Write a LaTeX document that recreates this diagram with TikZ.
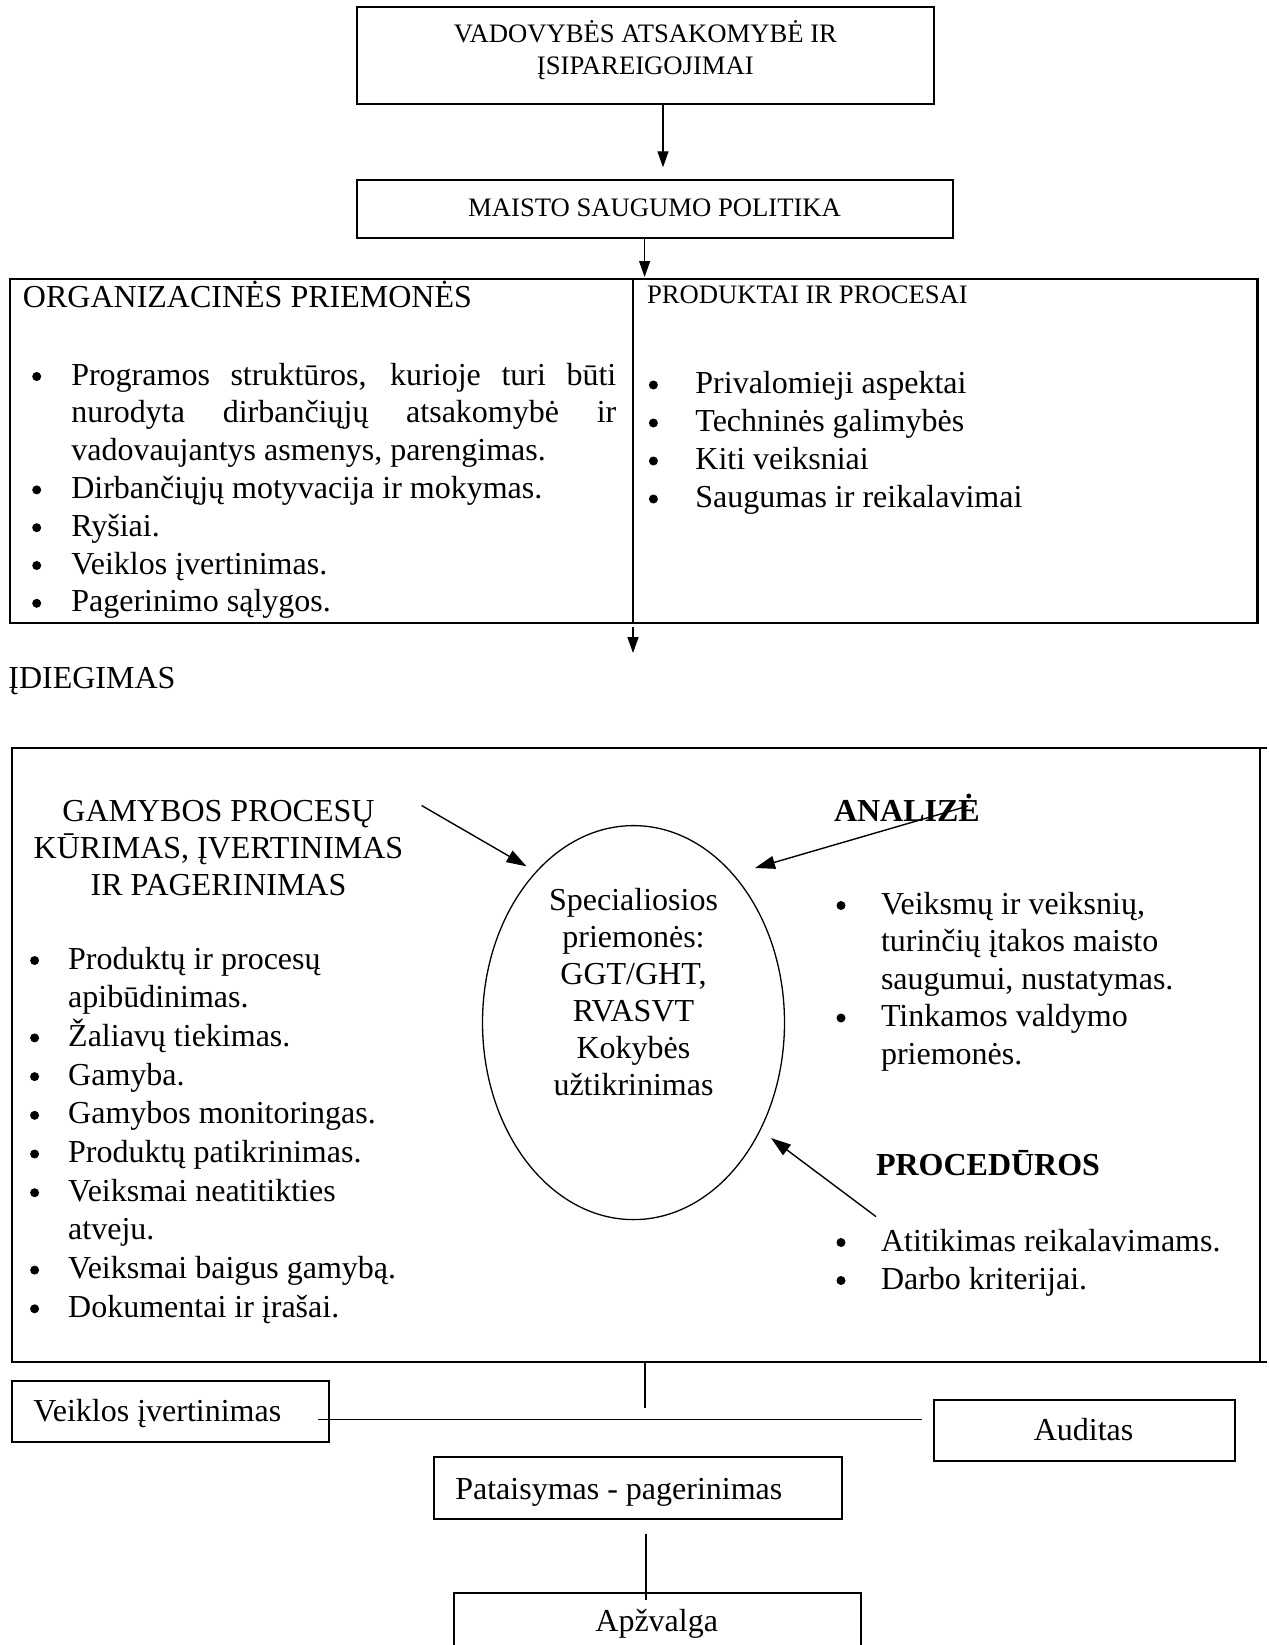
\documentclass[tikz,border=0pt]{standalone}
\usepackage{fontspec}
\setmainfont{Liberation Serif}
\usetikzlibrary{shapes.geometric,arrows.meta,calc}
\newcommand\bigsz{\fontsize{32}{37}\selectfont}
\newcommand\smallsz{\fontsize{26.67}{30.7}\selectfont}
\tikzset{
  frame/.style={draw, line width=1.8pt, inner sep=0pt, outer sep=0pt, anchor=north west},
  txt/.style={inner sep=0pt, outer sep=0pt, anchor=base west, font=\bigsz},
  ctxt/.style={inner sep=0pt, outer sep=0pt, anchor=base, font=\bigsz},
  stxt/.style={txt, font=\smallsz},
  sctxt/.style={ctxt, font=\smallsz},
  btxt/.style={txt, font=\bigsz\bfseries},
  dot/.style={circle, fill, inner sep=0pt, outer sep=0pt, minimum size=9pt},
  link/.style={line width=1.4pt},
  arr/.style={link, -{Triangle[length=16pt,width=11pt]}},
  slant/.style={link, -{Triangle[length=20pt,width=13pt]}},
}
\begin{document}
\begin{tikzpicture}[x=1pt,y=-1pt]
\useasboundingbox (0,0) rectangle (1268,1645);
\clip (0,0) rectangle (1268,1645);

% --- management commitment and policy ---
\node[frame, minimum width=577.4pt, minimum height=96.4pt] (lead) at (356.6,7.3) {};
\node[sctxt] (lead-1) at (645.4,42.5) {VADOVYBĖS ATSAKOMYBĖ IR};
\node[sctxt] (lead-2) at (645.4,74.5) {ĮSIPAREIGOJIMAI};

\node[frame, minimum width=596pt, minimum height=57.7pt] (policy) at (356.6,180.3) {};
\node[sctxt] (policy-t) at (654.6,216.5) {MAISTO SAUGUMO POLITIKA};

\draw[arr] ([xshift=306.4pt]lead.south west) -- ([xshift=306.4pt,yshift=13pt]policy.north west);

% --- organisational measures / products and processes ---
\node[frame, line width=2.4pt, minimum width=1247.8pt, minimum height=343.7pt] (org) at (9.7,279) {};
\draw[arr] ([xshift=288pt]policy.south west) -- ([xshift=288pt,yshift=2pt]policy.south west |- org.north);
\coordinate (div) at (633,0);
\draw[line width=1.4pt] (div |- org.north) -- (div |- org.south);

\node[txt] (org-h) at (23,307) {ORGANIZACINĖS PRIEMONĖS};
\node[stxt] (prod-h) at (647,303) {PRODUKTAI IR PROCESAI};

\foreach \k in {0,3,4,5,6}
  \node[dot] (org-b\k) at (36.7,385-8.5+37.8*\k) {};
\node[txt] (org-1a) at (71.3,385) {\makebox[545pt][s]{Programos struktūros, kurioje turi būti}};
\node[txt] (org-1b) at (71.3,422.8) {\makebox[545pt][s]{nurodyta dirbančiųjų atsakomybė ir}};
\node[txt] (org-1c) at (71.3,460.6) {vadovaujantys asmenys, parengimas.};
\node[txt] (org-2) at (71.3,498.4) {Dirbančiųjų motyvacija ir mokymas.};
\node[txt] (org-3) at (71.3,536.2) {Ryšiai.};
\node[txt] (org-4) at (71.3,574) {Veiklos įvertinimas.};
\node[txt] (org-5) at (71.3,611.8) {Pagerinimo sąlygos.};

\foreach \t [count=\i from 0] in {Privalomieji aspektai, Techninės galimybės, Kiti veiksniai, Saugumas ir reikalavimai} {
  \node[dot] (prod-b\i) at (653.4,393.5-8.5+38*\i) {};
  \node[txt] (prod-\i) at (695.4,393.5+38*\i) {\t};
}

\coordinate (impl-in) at (633,653);
\draw[arr] ($(div |- org.south)+(0,4)$) -- (impl-in);
\node[txt] (impl-h) at (8.4,688) {ĮDIEGIMAS};

% --- implementation frame ---
\node[frame, minimum width=1248pt, minimum height=614.3pt] (impl) at (12,747.7) {};
\coordinate (edge) at (1267,0);
\draw[line width=1.8pt] (impl.north east) -- (edge |- impl.north);
\draw[line width=1.8pt] (impl.south east) -- (edge |- impl.south);

\foreach \t [count=\i from 0] in {GAMYBOS PROCESŲ, {KŪRIMAS, ĮVERTINIMAS}, IR PAGERINIMAS}
  \node[ctxt] (gam-h\i) at (218.5,821+37*\i) {\t};

\foreach \k in {0,2,3,4,5,6,8,9}
  \node[dot] (gam-b\k) at (34.6,969-8.5+38.7*\k) {};
\foreach \t [count=\i from 0] in {Produktų ir procesų, apibūdinimas., Žaliavų tiekimas., Gamyba., Gamybos monitoringas., Produktų patikrinimas., Veiksmai neatitikties, atveju., Veiksmai baigus gamybą., Dokumentai ir įrašai.}
  \node[txt] (gam-\i) at (68.2,969+38.7*\i) {\t};

% special measures
\node[draw, ellipse, line width=1.3pt, minimum width=302pt, minimum height=394pt, inner sep=0pt] (core) at (633.5,1022.6) {};
\foreach \t [count=\i from 0] in {Specialiosios, priemonės:, {GGT/GHT,}, RVASVT, Kokybės, užtikrinimas}
  \node[ctxt] (core-\i) at (633.5,910+37*\i) {\t};

% analysis
\node[btxt] (ana-h) at (834,821.7) {ANALIZĖ};
\foreach \k in {0,3}
  \node[dot] (ana-b\k) at (841,914-8.5+37.5*\k) {};
\foreach \t [count=\i from 0] in {{Veiksmų ir veiksnių,}, turinčių įtakos maisto, {saugumui, nustatymas.}, Tinkamos valdymo, priemonės.}
  \node[txt] (ana-\i) at (881,914+37.5*\i) {\t};

% procedures
\node[btxt] (proc-h) at (876,1175) {PROCEDŪROS};
\foreach \t [count=\i from 0] in {Atitikimas reikalavimams., Darbo kriterijai.} {
  \node[dot] (proc-b\i) at (841,1251-8.5+38*\i) {};
  \node[txt] (proc-\i) at (881,1251+38*\i) {\t};
}

\coordinate (gam-out) at (421.6,805.5);
\coordinate (core-w) at (526.5,866.3);
\coordinate (ana-out) at (968,806);
\coordinate (core-ne) at (755,868);
\coordinate (proc-out) at (876,1216.6);
\coordinate (core-se) at (771,1138);
\draw[slant] (gam-out) -- (core-w);
\draw[slant] (ana-out) -- (core-ne);
\draw[slant] (proc-out) -- (core-se);

% --- evaluation, audit, correction, review ---
\node[frame, minimum width=317.3pt, minimum height=60.7pt] (veik) at (11.7,1381) {};
\node[txt] (veik-t) at (33.3,1421.7) {Veiklos įvertinimas};
\node[frame, minimum width=300.8pt, minimum height=61pt] (audit) at (934,1400) {};
\node[ctxt] (audit-t) at (1083.6,1440) {Auditas};
\node[frame, minimum width=407.4pt, minimum height=62pt] (pat) at (434.3,1457) {};
\node[txt] (pat-t) at (455.3,1499) {Pataisymas - pagerinimas};
\node[frame, minimum width=407.3pt, minimum height=80pt] (apz) at (453.7,1592.7) {};
\node[ctxt] (apz-t) at (656.7,1631.7) {Apžvalga};

\coordinate (mid) at (645,0);
\coordinate (hline) at (0,1419.3);
\coordinate (drop) at (645,1407.7);
\draw[link] (mid |- impl.south) -- (drop);
\draw[link] ([xshift=-11pt]veik.east |- hline) -- ([xshift=-12pt]audit.west |- hline);
\coordinate (rv) at (646,0);
\draw[link] ($(rv |- pat.south)+(0,15)$) -- ($(rv |- apz.north)+(0,7)$);
\end{tikzpicture}
\end{document}
